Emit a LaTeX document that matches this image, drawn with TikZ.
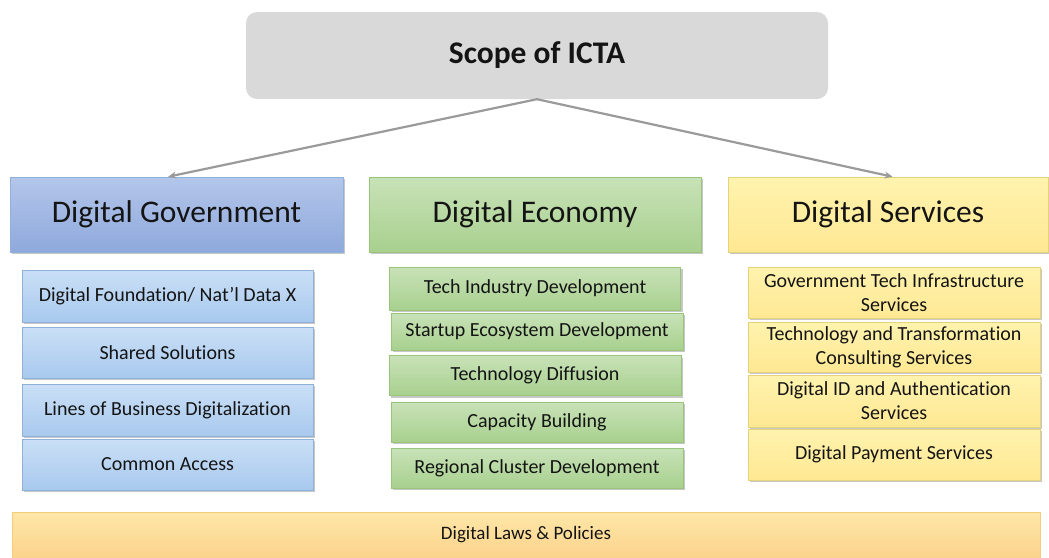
\documentclass[tikz,border=0pt]{standalone}
\usepackage{fontspec}
\setmainfont[Ligatures=NoCommon]{Carlito}
\usetikzlibrary{shadows,calc,arrows.meta}

\definecolor{txt}{HTML}{141414}
\definecolor{topfill}{HTML}{D9D9D9}
\definecolor{linkgray}{HTML}{9A9A9A}
\definecolor{blueA}{HTML}{B4C6EA}
\definecolor{blueB}{HTML}{8EA9DC}
\definecolor{bluesubA}{HTML}{CADFF6}
\definecolor{bluesubB}{HTML}{A8C9EE}
\definecolor{blueline}{HTML}{8FB0D8}
\definecolor{greenA}{HTML}{C8E2B8}
\definecolor{greenB}{HTML}{A8D08E}
\definecolor{greenline}{HTML}{98C47C}
\definecolor{yellowA}{HTML}{FFF3AE}
\definecolor{yellowB}{HTML}{FFE893}
\definecolor{yellowline}{HTML}{E6D27A}
\definecolor{orangeA}{HTML}{FFE7A8}
\definecolor{orangeB}{HTML}{FBD38C}
\definecolor{orangeline}{HTML}{F2CD7A}

\tikzset{
  box/.style={rectangle, draw, line width=0.6pt, text=txt, align=center,
    inner sep=0pt,
    drop shadow={shadow xshift=2pt, shadow yshift=-2pt, fill=black, opacity=0.22}},
  head/.style={box, font=\fontsize{31.5}{34}\selectfont},
  sub/.style={box, font=\fontsize{20}{24}\selectfont},
  govhead/.style={head, draw=blueline, top color=blueA, bottom color=blueB},
  gov/.style={sub, draw=blueline, top color=bluesubA, bottom color=bluesubB},
  econhead/.style={head, draw=greenline, top color=greenA, bottom color=greenB},
  econ/.style={sub, draw=greenline, top color=greenA, bottom color=greenB},
  servhead/.style={head, draw=yellowline, top color=yellowA, bottom color=yellowB},
  serv/.style={sub, draw=yellowline, top color=yellowA, bottom color=yellowB},
  link/.style={draw=linkgray, line width=2.2pt, -{Stealth[length=8pt,width=7pt]}},
}

\begin{document}
\begin{tikzpicture}[x=1pt, y=-1pt]
\useasboundingbox (0,0) rectangle (1049,557);

% root
\node[rectangle, rounded corners=11pt, fill=topfill, text=txt,
      minimum width=582pt, minimum height=87pt,
      font=\bfseries\fontsize{31.5}{34}\selectfont] (root) at (537,55.5) {Scope of ICTA};

% column headers
\node[govhead,  minimum width=333pt, minimum height=75pt] (gov)  at (176.5,214.5) {Digital Government};
\node[econhead, minimum width=332pt, minimum height=75pt] (econ) at (535,214.5)   {Digital Economy};
\node[servhead, minimum width=320pt, minimum height=75pt] (serv) at (888,214.5)   {Digital Services};

% links
\coordinate (govin)  at ($(gov.north west)!0.475!(gov.north east)$);
\coordinate (servin) at ($(serv.north west)!0.514!(serv.north east)$);
\draw[link] (root.south) -- (govin);
\draw[link] (root.south) -- (servin);

% Digital Government items
\node[gov, minimum width=291pt, minimum height=52pt] (g1) at (167.5,296) {Digital Foundation/ Nat’l Data X};
\node[gov, minimum width=291pt, minimum height=51pt] (g2) at (167.5,352.5) {Shared Solutions};
\node[gov, minimum width=291pt, minimum height=52pt] (g3) at (167.5,410) {Lines of Business Digitalization};
\node[gov, minimum width=291pt, minimum height=51pt] (g4) at (167.5,464.5) {Common Access};

% Digital Economy items
\node[econ, minimum width=291pt, minimum height=43pt] (e1) at (535,288.5) {Tech Industry Development};
\node[econ, minimum width=292pt, minimum height=37pt] (e2) at (537,331.5) {Startup Ecosystem Development};
\node[econ, minimum width=292pt, minimum height=40pt] (e3) at (535,375.5) {Technology Diffusion};
\node[econ, minimum width=292pt, minimum height=40pt] (e4) at (537,422) {Capacity Building};
\node[econ, minimum width=292pt, minimum height=40pt] (e5) at (537,468) {Regional Cluster Development};

% Digital Services items
\node[serv, minimum width=292pt, minimum height=51pt] (s1) at (894,292.5) {Government Tech Infrastructure\\Services};
\node[serv, minimum width=292pt, minimum height=50pt] (s2) at (894,347) {Technology and Transformation\\Consulting Services};
\node[serv, minimum width=292pt, minimum height=52pt] (s3) at (894,401) {Digital ID and Authentication\\Services};
\node[serv, minimum width=292pt, minimum height=51pt] (s4) at (894,454.5) {Digital Payment Services};

% foundation bar
\node[rectangle, draw=orangeline, line width=0.6pt, top color=orangeA, bottom color=orangeB,
      text=txt, minimum width=1028pt, minimum height=46pt, inner sep=0pt,
      font=\fontsize{19}{22}\selectfont] (laws) at (526,535) {Digital Laws \& Policies};
\end{tikzpicture}
\end{document}
